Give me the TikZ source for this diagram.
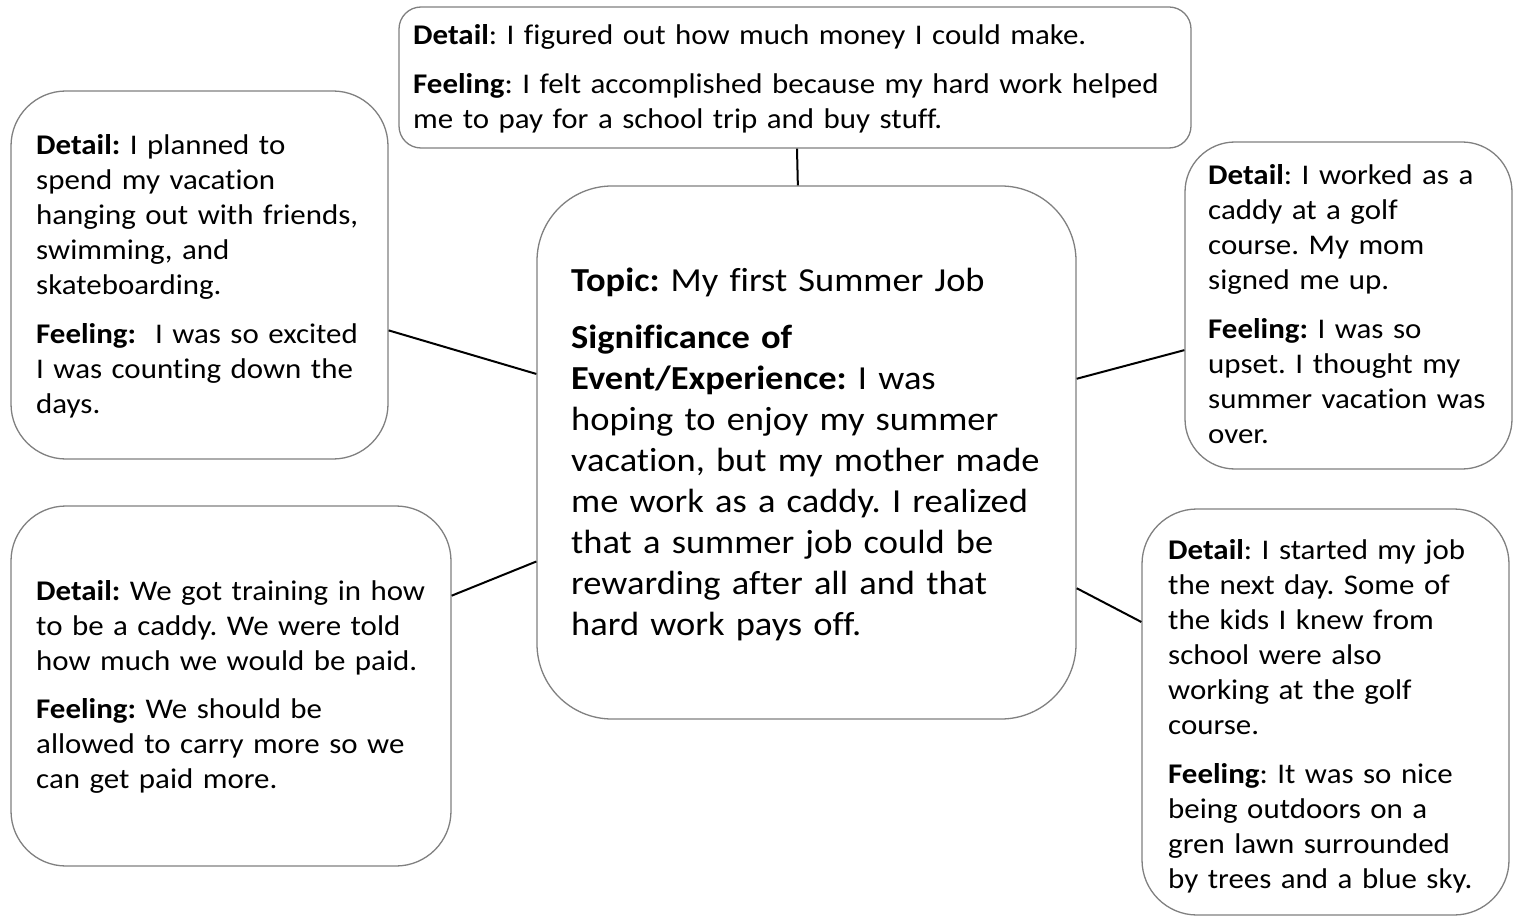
\documentclass[tikz,border=0pt]{standalone}
\usepackage{fontspec}
\setmainfont{Carlito}[FakeStretch=1.085, Ligatures={NoCommon}]
\frenchspacing
\usetikzlibrary{calc}
\definecolor{boxgray}{RGB}{128,128,128}
\tikzset{
  bubble/.style={draw=boxgray, line width=1.3pt, fill=white, rectangle, inner sep=0pt},
  txt/.style={anchor=base west, align=left, inner sep=0pt, font=\fontsize{28.5}{35}\selectfont\frenchspacing},
  bigtxt/.style={anchor=base west, align=left, inner sep=0pt, font=\fontsize{33.6}{41}\selectfont\frenchspacing},
  link/.style={draw=black, line width=2pt},
}
\begin{document}
\begin{tikzpicture}[x=1pt,y=-1pt]
\useasboundingbox (0,0) rectangle (1520,917);
% boxes
\node[bubble, rounded corners=22pt, minimum width=792pt, minimum height=141pt] (top) at (795,77.5) {};
\node[bubble, rounded corners=55pt, minimum width=377pt, minimum height=368pt] (lt) at (199.5,275) {};
\node[bubble, rounded corners=75pt, minimum width=539pt, minimum height=533pt] (ctr) at (806.5,452.5) {};
\node[bubble, rounded corners=50pt, minimum width=327pt, minimum height=327pt] (rt) at (1348.5,305.5) {};
\node[bubble, rounded corners=55pt, minimum width=440pt, minimum height=360pt] (lb) at (231,686) {};
\node[bubble, rounded corners=55pt, minimum width=367pt, minimum height=406pt] (rb) at (1325.5,712) {};
% connectors
\draw[link] ($(top.south west)!0.5025!(top.south east)$) -- ($(ctr.north west)!0.484!(ctr.north east)$);
\draw[link] ($(lt.north east)!0.65!(lt.south east)$) -- ($(ctr.north west)!0.353!(ctr.south west)$);
\draw[link] ($(lb.north east)!0.25!(lb.south east)$) -- ($(ctr.north west)!0.704!(ctr.south west)$);
\draw[link] ($(ctr.north east)!0.362!(ctr.south east)$) -- ($(rt.north west)!0.636!(rt.south west)$);
\draw[link] ($(ctr.north east)!0.754!(ctr.south east)$) -- ($(rb.north west)!0.279!(rb.south west)$);
% texts
\node[txt, text width=770pt] (toptext) at (413,45) {\textbf{Detail}: I figured out how much money I could make.\\[14pt]
\textbf{Feeling}: I felt accomplished because my hard work helped\\
me to pay for a school trip and buy stuff.};
\node[txt, text width=345pt] (lttext) at (36,155) {\textbf{Detail:} I planned to\\
spend my vacation\\
hanging out with friends,\\
swimming, and\\
skateboarding.\\[14pt]
\textbf{Feeling:}\ \ I was so excited\\
I was counting down the\\
days.};
\node[bigtxt, text width=500pt] (ctrtext) at (571,291) {\textbf{Topic:} My first Summer Job\\[16pt]
\textbf{Significance of}\\
\textbf{Event/Experience:} I was\\
hoping to enjoy my summer\\
vacation, but my mother made\\
me work as a caddy. I realized\\
that a summer job could be\\
rewarding after all and that\\
hard work pays off.};
\node[txt, text width=300pt] (rttext) at (1208,185) {\textbf{Detail}: I worked as a\\
caddy at a golf\\
course. My mom\\
signed me up.\\[14pt]
\textbf{Feeling:} I was so\\
upset. I thought my\\
summer vacation was\\
over.};
\node[txt, text width=405pt] (lbtext) at (36,600) {\textbf{Detail:} We got training in how\\
to be a caddy. We were told\\
how much we would be paid.\\[13pt]
\textbf{Feeling:} We should be\\
allowed to carry more so we\\
can get paid more.};
\node[txt, text width=335pt] (rbtext) at (1168,559) {\textbf{Detail}: I started my job\\
the next day. Some of\\
the kids I knew from\\
school were also\\
working at the golf\\
course.\\[14pt]
\textbf{Feeling}: It was so nice\\
being outdoors on a\\
gren lawn surrounded\\
by trees and a blue sky.};
\end{tikzpicture}
\end{document}
